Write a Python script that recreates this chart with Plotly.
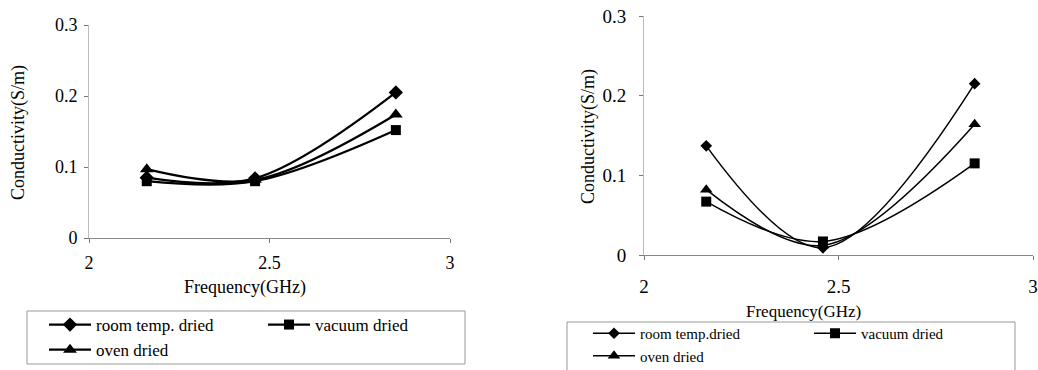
import plotly.graph_objects as go

# ---- data ----
freq = [2.16, 2.46, 2.85]

series_names_left = ["room temp. dried", "vacuum dried", "oven dried"]
room_left = [0.085, 0.084, 0.205]
vacuum_left = [0.080, 0.080, 0.152]
oven_left = [0.097, 0.082, 0.174]

series_names_right = ["room temp.dried", "vacuum dried", "oven dried"]
room_right = [0.137, 0.009, 0.215]
vacuum_right = [0.067, 0.017, 0.115]
oven_right = [0.082, 0.012, 0.164]

y_ticks = [0, 0.1, 0.2, 0.3]
x_ticks = [2, 2.5, 3]

W, H = 1038, 370
FONT = "Liberation Serif, Times New Roman, serif"

symbols = ["diamond", "square", "triangle-up"]
groups = ["a", "b", "a"]

fig = go.Figure()

left_vals = [room_left, vacuum_left, oven_left]
right_vals = [room_right, vacuum_right, oven_right]
left_sizes = [11, 10, 12]
right_sizes = [9, 10, 11]

for name, vals, sym, grp, sz in zip(series_names_left, left_vals, symbols, groups, left_sizes):
    fig.add_trace(go.Scatter(
        x=freq, y=vals, name=name, mode="lines+markers",
        line=dict(color="black", width=2.2, shape="spline", smoothing=1.0),
        marker=dict(symbol=sym, size=sz, color="black"),
        xaxis="x", yaxis="y", legend="legend", legendgroup="L" + grp,
    ))

for name, vals, sym, grp, sz in zip(series_names_right, right_vals, symbols, groups, right_sizes):
    fig.add_trace(go.Scatter(
        x=freq, y=vals, name=name, mode="lines+markers",
        line=dict(color="black", width=1.5, shape="spline", smoothing=1.0),
        marker=dict(symbol=sym, size=sz, color="black"),
        xaxis="x2", yaxis="y2", legend="legend2", legendgroup="R" + grp,
    ))

def px_x(p):
    return p / W

def px_y(p):
    return (H - p) / H

axis_common = dict(showgrid=False, zeroline=False, showline=True, ticks="outside",
                   ticklen=4, tickcolor="#777", linewidth=1)

fig.update_layout(
    width=W, height=H,
    margin=dict(l=0, r=0, t=0, b=0, autoexpand=False),
    paper_bgcolor="white", plot_bgcolor="white",
    font=dict(family=FONT, color="black"),
    xaxis=dict(domain=[px_x(89), px_x(450)], range=[2, 3], tickvals=x_ticks,
               anchor="y", linecolor="#888", ticklabelstandoff=4,
               tickfont=dict(size=18, family=FONT, color="black"), **axis_common),
    yaxis=dict(domain=[px_y(238), px_y(25)], range=[0, 0.3], tickvals=y_ticks,
               anchor="x", linecolor="#bbb", ticklabelstandoff=3,
               tickfont=dict(size=18, family=FONT, color="black"), **axis_common),
    xaxis2=dict(domain=[px_x(644), px_x(1033)], range=[2, 3], tickvals=x_ticks,
                anchor="y2", linecolor="#888", ticklabelstandoff=10,
                ticklabeloverflow="allow",
                tickfont=dict(size=19, family=FONT, color="black"), **axis_common),
    yaxis2=dict(domain=[px_y(255), px_y(16)], range=[0, 0.3], tickvals=y_ticks,
                anchor="x2", linecolor="#bbb", ticklabelstandoff=9,
                tickfont=dict(size=19, family=FONT, color="black"), **axis_common),
    legend=dict(orientation="h", traceorder="grouped", entrywidth=162,
                x=px_x(44), y=px_y(307), xanchor="left", yanchor="top",
                font=dict(size=17, family=FONT, color="black"), bgcolor="rgba(0,0,0,0)",
                borderwidth=0, itemwidth=42),
    legend2=dict(orientation="h", traceorder="grouped", entrywidth=164,
                 x=px_x(588), y=px_y(317), xanchor="left", yanchor="top",
                 font=dict(size=15, family=FONT, color="black"), bgcolor="rgba(0,0,0,0)",
                 borderwidth=0, itemwidth=42),
    showlegend=True,
)

# legend frames
fig.add_shape(type="rect", xref="paper", yref="paper",
              x0=px_x(27), x1=px_x(465), y0=px_y(364), y1=px_y(311),
              line=dict(color="#999", width=1))
fig.add_shape(type="rect", xref="paper", yref="paper",
              x0=px_x(567), x1=px_x(1015), y0=px_y(385), y1=px_y(322),
              line=dict(color="#999", width=1))

# axis titles
fig.add_annotation(text="Frequency(GHz)", xref="paper", yref="paper",
                   x=px_x(245), y=px_y(287), showarrow=False,
                   xanchor="center", yanchor="middle", font=dict(size=18))
fig.add_annotation(text="Frequency(GHz)", xref="paper", yref="paper",
                   x=px_x(803), y=px_y(311), showarrow=False,
                   xanchor="center", yanchor="middle", font=dict(size=17))
fig.add_annotation(text="Conductivity(S/m)", xref="paper", yref="paper",
                   x=px_x(18), y=px_y(133), showarrow=False, textangle=-90,
                   xanchor="center", yanchor="middle", font=dict(size=18))
fig.add_annotation(text="Conductivity(S/m)", xref="paper", yref="paper",
                   x=px_x(588), y=px_y(137), showarrow=False, textangle=-90,
                   xanchor="center", yanchor="middle", font=dict(size=18))

fig.write_html("out.html")
